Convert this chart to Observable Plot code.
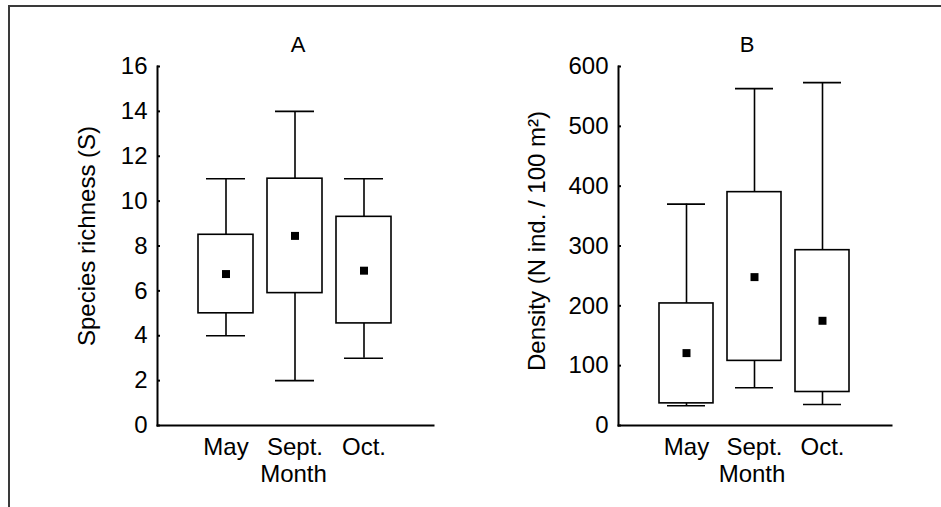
<!DOCTYPE html>
<html><head><meta charset="utf-8">
<script src="https://cdn.jsdelivr.net/npm/d3@7"></script>
<script src="https://cdn.jsdelivr.net/npm/@observablehq/plot@0.6"></script>
<style>
html,body{margin:0;padding:0;background:#fff;}
#page{position:relative;width:941px;height:507px;overflow:hidden;background:#fff;}
#a{position:absolute;left:0;top:0;}
#b{position:absolute;left:470px;top:0;}
#frame{position:absolute;left:8px;top:5px;width:960px;height:520px;border-top:2px solid #3a3a3a;border-left:2px solid #3a3a3a;pointer-events:none;}
</style></head><body>
<div id="page"><div id="a"></div><div id="b"></div><div id="frame"></div></div>
<script>
const months = ["May", "Sept.", "Oct."];

// Panel A: species richness
const richMin  = [4, 2, 3];
const richQ1   = [5.0, 5.9, 4.55];
const richQ3   = [8.5, 11.0, 9.3];
const richMax  = [11, 14, 11];
const richMean = [6.75, 8.45, 6.9];
const richTicks = [0, 2, 4, 6, 8, 10, 12, 14, 16];

// Panel B: density
const densMin  = [33, 63, 35];
const densQ1   = [37, 108, 56];
const densQ3   = [204, 390, 293];
const densMax  = [370, 563, 573];
const densMean = [121, 248, 175];
const densTicks = [0, 100, 200, 300, 400, 500, 600];

function rowsOf(mn, q1, q3, mx, mean) {
  return months.map((m, i) => ({month: m, min: mn[i], q1: q1[i], q3: q3[i], max: mx[i], mean: mean[i]}));
}

const FONT = "Liberation Sans, Arial, Helvetica, sans-serif";

function panel(o) {
  const rows = rowsOf(o.mn, o.q1, o.q3, o.mx, o.mean);
  const sw = 1.6;
  return Plot.plot({
    width: o.width, height: 507,
    marginLeft: o.ml, marginRight: o.mr, marginTop: o.mt, marginBottom: 82,
    style: {fontFamily: FONT, fontSize: "24px", background: "none", color: "black", overflow: "visible"},
    x: {type: "band", domain: months, paddingInner: 0.2, paddingOuter: 0.6, label: null},
    y: {domain: o.domain, label: null},
    marks: [
      Plot.ruleX(rows, {x: "month", y1: "q3", y2: "max", strokeWidth: sw}),
      Plot.ruleX(rows, {x: "month", y1: "min", y2: "q1", strokeWidth: sw}),
      Plot.tickY(rows, {x: "month", y: "max", inset: 8, strokeWidth: sw}),
      Plot.tickY(rows, {x: "month", y: "min", inset: 8, strokeWidth: sw}),
      Plot.barY(rows, {x: "month", y1: "q1", y2: "q3", fill: "white", stroke: "black", strokeWidth: sw}),
      Plot.dot(rows, {x: "month", y: "mean", symbol: "square", r: 4.5, fill: "black", stroke: null}),
      Plot.axisY({ticks: o.ticks, tickSize: -3, tickPadding: 13, label: null, strokeWidth: 2}),
      Plot.axisX({tickSize: 0, tickPadding: 12, label: null}),
      Plot.frame({anchor: "left", strokeWidth: 2}),
      Plot.frame({anchor: "bottom", strokeWidth: 2}),
      Plot.text([o.title], {frameAnchor: "top", textAnchor: "middle", lineAnchor: "bottom", dx: o.tdx, dy: -15, fontSize: 22}),
      Plot.text([o.ylabel], {frameAnchor: "left", textAnchor: "middle", rotate: -90, dx: o.ldx, dy: o.ldy}),
      Plot.text(["Month"], {frameAnchor: "bottom", textAnchor: "middle", lineAnchor: "bottom", dx: o.mdx, dy: 56})
    ]
  });
}

document.getElementById("a").append(panel({
  width: 470, ml: 157, mr: 37, mt: 66, domain: [0, 16], ticks: richTicks,
  mn: richMin, q1: richQ1, q3: richQ3, mx: richMax, mean: richMean,
  title: "A", tdx: 2.5, ylabel: "Species richness (S)", ldx: -70, ldy: -10, mdx: -2
}));
document.getElementById("b").append(panel({
  width: 471, ml: 148, mr: 50, mt: 66, domain: [0, 600], ticks: densTicks,
  mn: densMin, q1: densQ1, q3: densQ3, mx: densMax, mean: densMean,
  title: "B", tdx: -8, ylabel: "Density (N ind. / 100 m²)", ldx: -81, ldy: -5, mdx: -3
}));
</script>
</body></html>
